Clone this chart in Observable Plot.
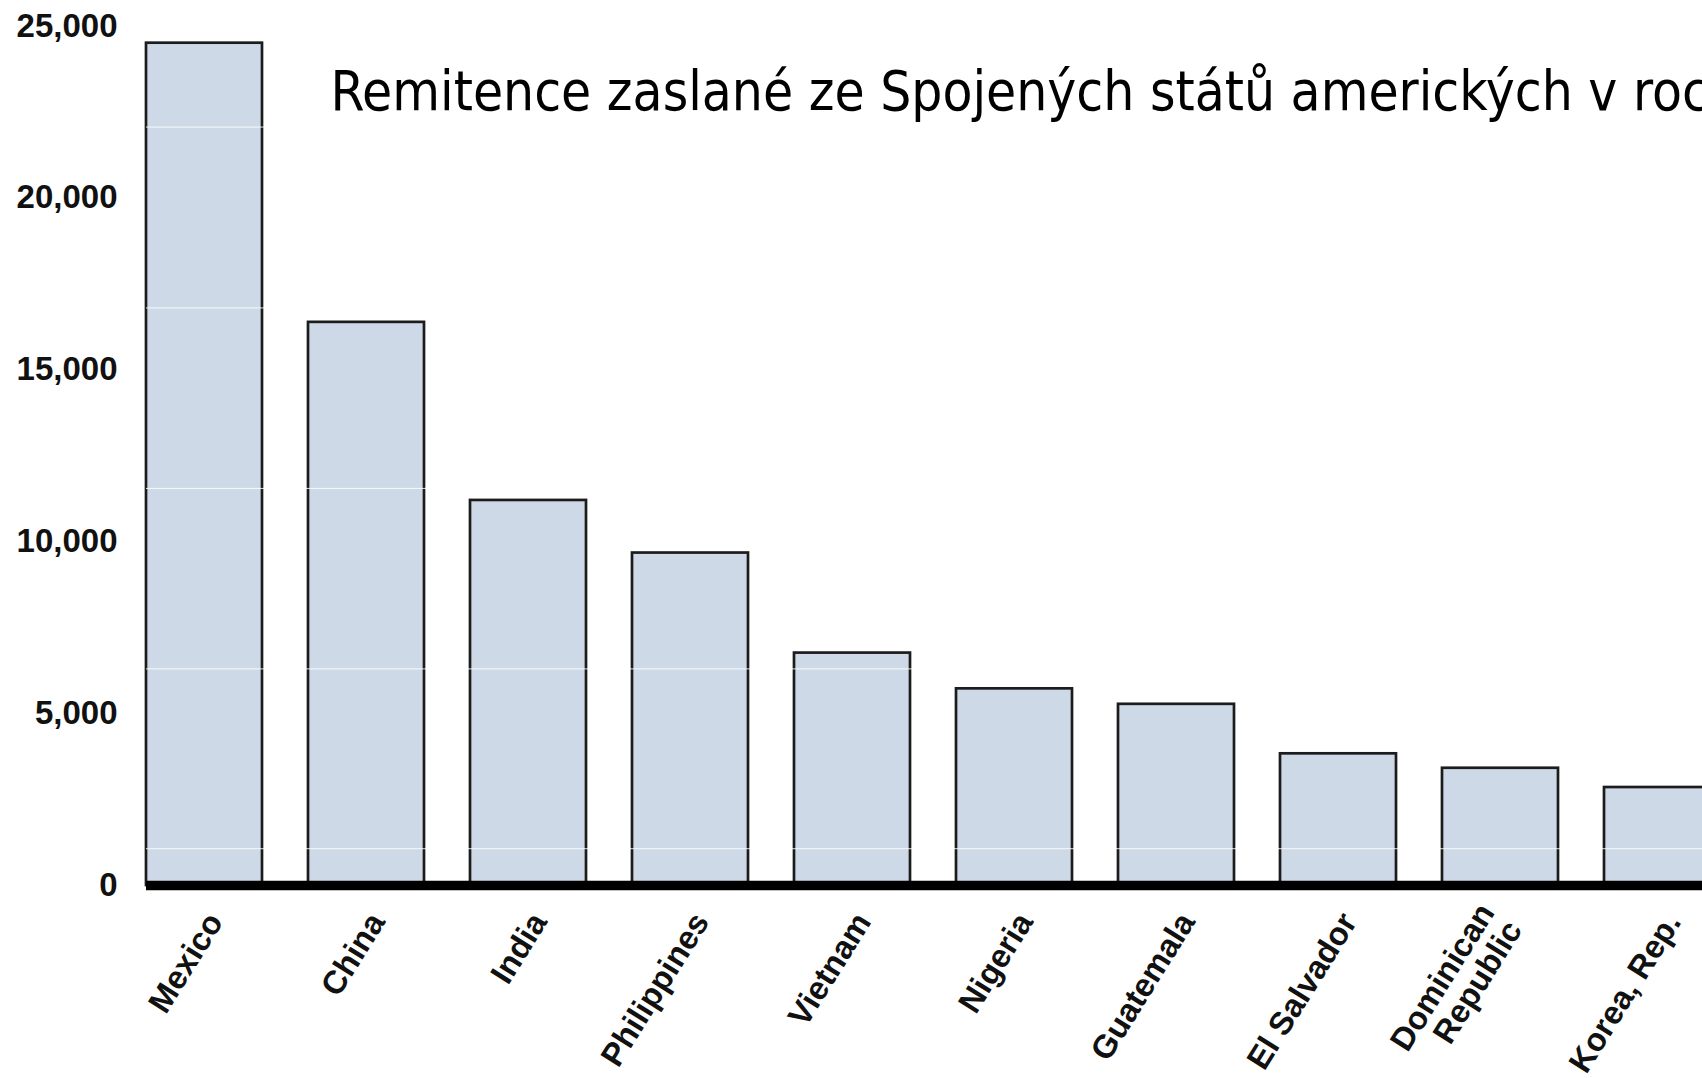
<!DOCTYPE html>
<html>
<head>
<meta charset="utf-8">
<script src="https://cdn.jsdelivr.net/npm/d3@7"></script>
<script src="https://cdn.jsdelivr.net/npm/@observablehq/plot@0.6"></script>
<style>
  html, body { margin: 0; padding: 0; background: white; overflow: hidden; width: 1702px; height: 1078px; }
  #chart { position: absolute; left: 0; top: 0; }
</style>
</head>
<body>
<div id="chart"></div>
<script>
// Data (US$ millions)
const countries = ["Mexico", "China", "India", "Philippines", "Vietnam", "Nigeria", "Guatemala", "El Salvador", "Dominican Republic", "Korea, Rep."];
const values = [24500, 16380, 11200, 9670, 6760, 5720, 5270, 3830, 3410, 2850];
const tickLabels = {"Dominican Republic": "Dominican\nRepublic"};
const yTicks = [0, 5000, 10000, 15000, 20000, 25000];
// faint white lines crossing the bars in the reference image
const whiteLines = [1070, 6300, 11550, 16800, 22060];
const title = "Remitence zaslané ze Spojených států amerických v roce";

const data = countries.map((c, i) => ({country: c, value: values[i]}));
const singleLine = countries.filter(c => !tickLabels[c]);
const multiLine = countries.filter(c => tickLabels[c]);

const labelFont = "'Liberation Sans', Arial, Helvetica, sans-serif";

const plot = Plot.plot({
  width: 1720,
  height: 1078,
  marginLeft: 146,
  marginRight: 0,
  marginTop: 25.5,
  marginBottom: 193,
  style: {maxWidth: "none", background: "white", overflow: "hidden", color: "#111"},
  x: {domain: countries, paddingInner: 0.287, paddingOuter: 0, label: null},
  y: {domain: [0, 25000], label: null},
  marks: [
    Plot.barY(data, {x: "country", y: "value", fill: "#cdd9e7", stroke: "#1c1c1c", strokeWidth: 2.7}),
    Plot.ruleY(whiteLines, {stroke: "white", strokeWidth: 1, strokeOpacity: 0.85}),
    Plot.ruleY([0], {stroke: "black", strokeWidth: 9.5}),
    Plot.axisY({ticks: yTicks, tickFormat: d3.format(","), tickSize: 0, tickPadding: 29,
      fontSize: 33, fontWeight: "bold", fontFamily: labelFont, fill: "#111", label: null}),
    Plot.axisX({ticks: singleLine, tickRotate: -58, tickSize: 0, tickPadding: 24,
      textAnchor: "end", lineAnchor: "top",
      fontSize: 32.5, fontWeight: "bold", fontFamily: labelFont, fill: "#111", label: null}),
    Plot.axisX({ticks: multiLine, tickFormat: d => tickLabels[d] ?? d, tickRotate: -58, tickSize: 0, tickPadding: 30,
      textAnchor: "end", lineAnchor: "middle",
      fontSize: 32.5, fontWeight: "bold", fontFamily: labelFont, fill: "#111", label: null}),
    Plot.text([title], {frameAnchor: "top-left", dx: 184, dy: 45, text: d => d,
      textAnchor: "start", lineAnchor: "top", fontSize: 54.5,
      fontFamily: "'DejaVu Sans Condensed', 'DejaVu Sans', sans-serif", fill: "black"})
  ]
});
document.getElementById("chart").appendChild(plot);
</script>
</body>
</html>
